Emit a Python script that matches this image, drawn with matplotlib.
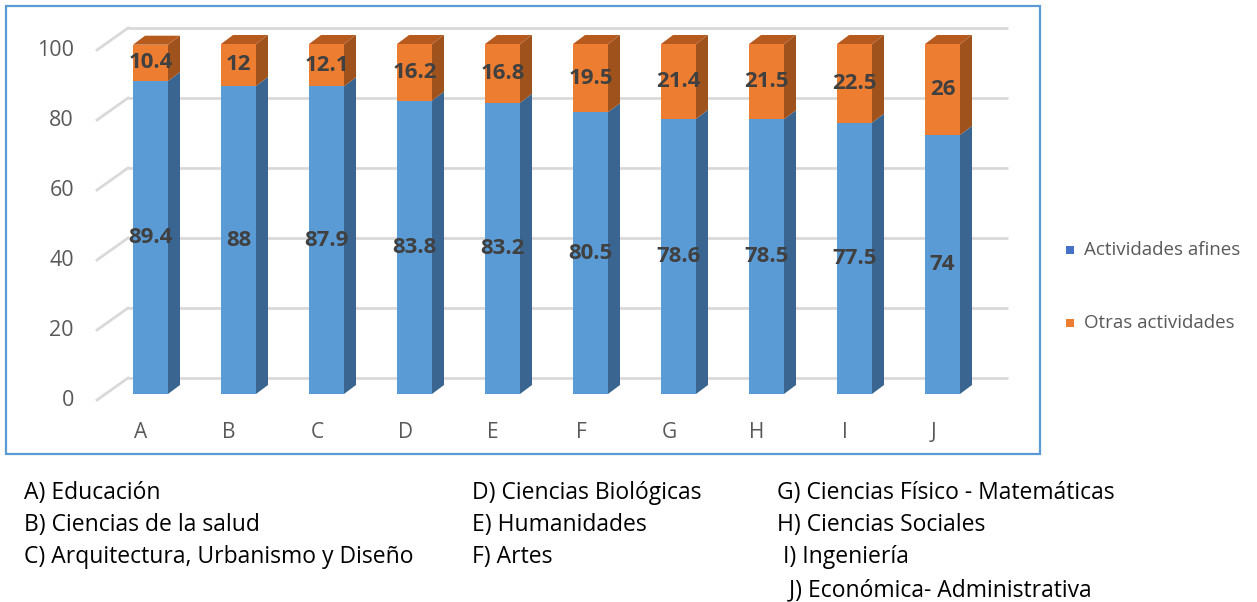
import matplotlib
matplotlib.use("Agg")
import matplotlib.pyplot as plt
from matplotlib.patches import Polygon, Rectangle

# Data
categories = ["A", "B", "C", "D", "E", "F", "G", "H", "I", "J"]
afines = [89.4, 88, 87.9, 83.8, 83.2, 80.5, 78.6, 78.5, 77.5, 74]
otras = [10.4, 12, 12.1, 16.2, 16.8, 19.5, 21.4, 21.5, 22.5, 26]
series_names = ["Actividades afines", "Otras actividades"]
y_ticks = [0, 20, 40, 60, 80, 100]
key_cols = [
    ["A) Educación", "B) Ciencias de la salud", "C) Arquitectura, Urbanismo y Diseño"],
    ["D) Ciencias Biológicas", "E) Humanidades", "F) Artes"],
    ["G) Ciencias Físico - Matemáticas", "H) Ciencias Sociales", " I) Ingeniería",
     "  J) Económica- Administrativa"],
]

# Colours
BLUE, BLUE_SIDE = "#5B9BD5", "#3A6590"
ORANGE, ORANGE_SIDE, ORANGE_TOP = "#ED7D31", "#A0521D", "#B65A1E"
GRID = "#D9D9D9"
AXIS_TXT = "#595959"
LABEL_TXT = "#404040"

W, H, DPI = 1257, 602, 100
fig = plt.figure(figsize=(W / DPI, H / DPI), dpi=DPI)
ax = fig.add_axes([0, 0, 1, 1])

# pixel layout of the 3D plot area
X0, STEP = 150.5, 88.0          # first bar centre, spacing (px)
Y0, SCALE = 394.0, 3.5          # baseline (px), px per unit


def xd(px):
    return (px - X0) / STEP


def yd(py):
    return (Y0 - py) / SCALE


ax.set_xlim(xd(0), xd(W))
ax.set_ylim(yd(H), yd(0))
ax.axis("off")

bar_w = 35 / STEP
dx, dy = 12 / STEP, 9 / SCALE
wall_dx, wall_dy = 31 / STEP, 22 / SCALE
front_off = -6 / SCALE  # front edge of the floor sits below the bar base
wall_left, wall_right = xd(128), xd(1008)

# back wall gridlines with diagonal side-wall lines
for t in y_ticks:
    yb = t + front_off + wall_dy
    ax.plot([wall_left, wall_right], [yb, yb], color=GRID, lw=2, zorder=1,
            solid_capstyle="butt")
    ax.plot([wall_left - wall_dx, wall_left], [t + front_off, yb], color=GRID,
            lw=2, zorder=1)
    ax.text(xd(74), t + front_off, str(t), ha="right", va="center",
            fontsize=15.5, color=AXIS_TXT, family="Open Sans")

x = list(range(len(categories)))
ax.bar(x, afines, width=bar_w, color=BLUE, zorder=3)
ax.bar(x, otras, width=bar_w, bottom=afines, color=ORANGE, zorder=3)

for i, (a, o) in enumerate(zip(afines, otras)):
    r = i + bar_w / 2
    l = i - bar_w / 2
    top = a + o
    ax.add_patch(Polygon([(r, 0), (r + dx, dy), (r + dx, a + dy), (r, a)],
                         closed=True, color=BLUE_SIDE, zorder=3, lw=0))
    ax.add_patch(Polygon([(r, a), (r + dx, a + dy), (r + dx, top + dy), (r, top)],
                         closed=True, color=ORANGE_SIDE, zorder=3, lw=0))
    ax.add_patch(Polygon([(l, top), (r, top), (r + dx, top + dy), (l + dx, top + dy)],
                         closed=True, color=ORANGE_TOP, zorder=3, lw=0))
    ax.text(i, a / 2, f"{a:g}", ha="center", va="center", fontsize=16,
            fontweight="bold", color=LABEL_TXT, family="Open Sans", zorder=5)
    ax.text(i, a + o / 2, f"{o:g}", ha="center", va="center", fontsize=16,
            fontweight="bold", color=LABEL_TXT, family="Open Sans", zorder=5)
    ax.text(i - 9.5 / STEP, yd(432), categories[i], ha="center", va="center",
            fontsize=15, color=AXIS_TXT, family="Open Sans")

# legend on the right
for name, col, py in zip(series_names, ["#4472C4", ORANGE], [250, 323]):
    ax.add_patch(Rectangle((xd(1066), yd(py + 4)), 8 / STEP, 8 / SCALE,
                           color=col, lw=0))
    ax.text(xd(1084), yd(py), name, ha="left", va="center", fontsize=13.5,
            color=AXIS_TXT, family="Open Sans")

# chart frame
fig.add_artist(Rectangle((6 / W, 1 - 454 / H), 1034 / W, 448 / H,
                         transform=fig.transFigure, fill=False,
                         edgecolor="#5B9BD5", lw=1.6))

# category key below the chart
col_x = [24, 472, 777]
row_y = [493, 525, 557, 590]
for cx, items in zip(col_x, key_cols):
    for ry, s in zip(row_y, items):
        fig.text(cx / W, 1 - ry / H, s, ha="left", va="center", fontsize=16.5,
                 color="black", family="Open Sans")

fig.savefig("out.png", dpi=DPI)
